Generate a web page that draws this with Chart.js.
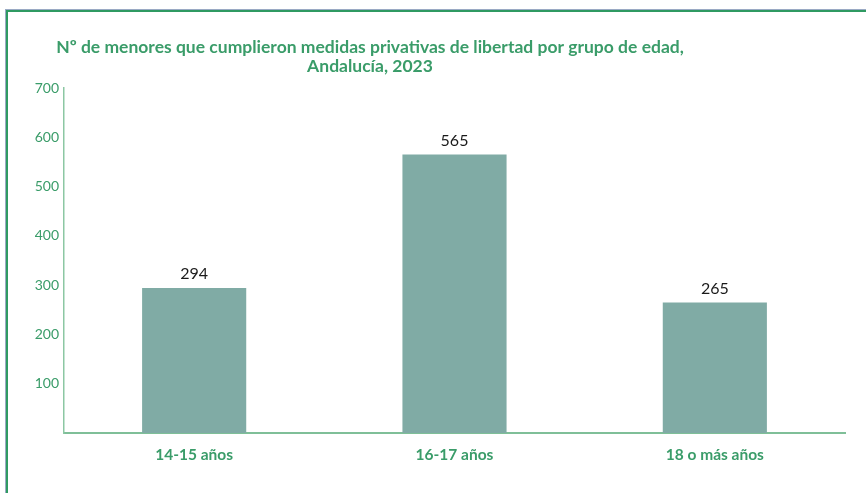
<!DOCTYPE html>
<html>
<head>
<meta charset="utf-8">
<script src="https://cdn.jsdelivr.net/npm/chart.js@4"></script>
<style>
  html, body { margin: 0; padding: 0; background: #fff; }
  #wrap { position: relative; width: 866px; height: 493px; overflow: hidden; }
  #frame { position: absolute; left: 5px; top: 9px; width: 900px; height: 600px;
           border-left: 1px solid #9aaac4; border-top: 1px solid #9aaac4; }
  #frame2 { position: absolute; left: 6px; top: 10px; width: 900px; height: 600px;
            border-left: 2px solid #2f9a62; border-top: 2px solid #2f9a62; }
  canvas { position: absolute; left: 0; top: 0; }
</style>
</head>
<body>
<div id="wrap">
  <div id="frame"></div>
  <div id="frame2"></div>
  <canvas id="Chart" width="866" height="493"></canvas>
</div>
<script>
// categorias y valores
var ageGroups = ["14-15 años", "16-17 años", "18 o más años"];
var menores = [294, 565, 265];
var yTicks = [0, 100, 200, 300, 400, 500, 600, 700];
var titleLines = ["Nº de menores que cumplieron medidas privativas de libertad por grupo de edad,", "Andalucía, 2023"];

var green = "#3a9c69";
var fontFam = "Lato, 'Open Sans', sans-serif";

// dibuja el titulo centrado sobre x=370 (no sobre el centro del lienzo)
var titlePlugin = {
    id: "titleText",
    afterDraw: function (chart) {
        var c = chart.ctx;
        c.save();
        c.fillStyle = green;
        c.font = "bold 17.5px " + fontFam;
        c.textAlign = "center";
        c.textBaseline = "middle";
        c.fillText(titleLines[0], 370, 47);
        c.fillText(titleLines[1], 370, 66);
        c.restore();
    }
};

// etiquetas de valor encima de cada barra
var valuePlugin = {
    id: "valueLabels",
    afterDatasetsDraw: function (chart) {
        var c = chart.ctx;
        var meta = chart.getDatasetMeta(0);
        c.save();
        c.fillStyle = "#1a1a1a";
        c.font = "16px " + fontFam;
        c.textAlign = "center";
        c.textBaseline = "bottom";
        meta.data.forEach(function (bar, i) {
            c.fillText(menores[i], bar.x, bar.y - 6);
        });
        c.restore();
    }
};

var ctx = document.getElementById("Chart").getContext("2d");
var chart = new Chart(ctx, {
    type: "bar",
    data: {
        labels: ageGroups,
        datasets: [{
            data: menores,
            backgroundColor: "#80aba5",
            borderWidth: 0,
            barPercentage: 0.4,
            categoryPercentage: 1
        }]
    },
    options: {
        responsive: false,
        animation: false,
        layout: { padding: { left: 0, right: 21, top: 88, bottom: 0 } },
        plugins: { legend: { display: false }, tooltip: { enabled: false }, title: { display: false } },
        scales: {
            x: {
                grid: { display: false, drawTicks: false },
                border: { color: "#7fbf98", width: 2 },
                ticks: { color: green, font: { family: fontFam, size: 15.5, weight: "bold" }, padding: 13 },
                afterFit: function (scale) { scale.height = 60; }
            },
            y: {
                min: 0,
                max: 700,
                grid: { display: false, drawTicks: false },
                border: { color: "#8cc7a3", width: 1.5 },
                afterBuildTicks: function (scale) {
                    scale.ticks = yTicks.map(function (v) { return { value: v }; });
                },
                ticks: {
                    color: green,
                    font: { family: fontFam, size: 14 },
                    padding: 5,
                    callback: function (v) { return v === 0 ? "" : v; }
                },
                afterFit: function (scale) { scale.width = 64; }
            }
        }
    },
    plugins: [titlePlugin, valuePlugin]
});
</script>
</body>
</html>
